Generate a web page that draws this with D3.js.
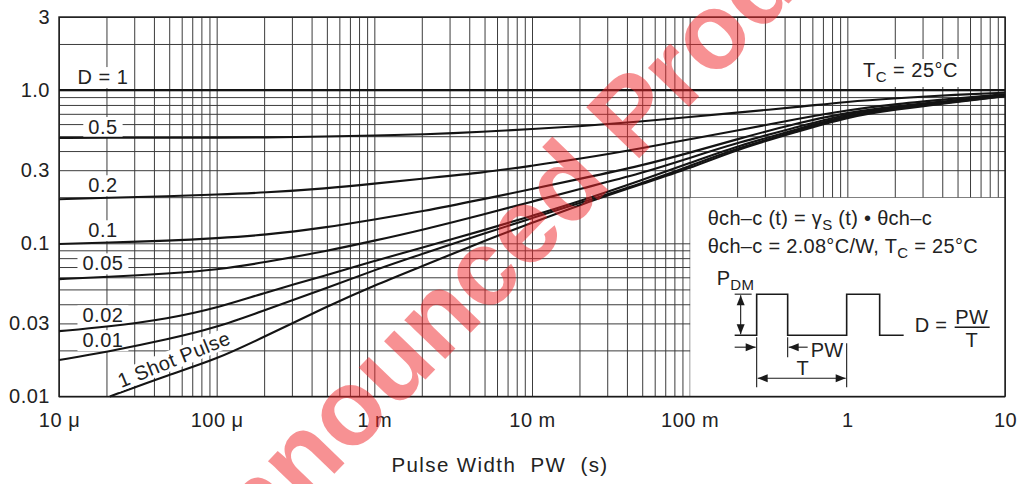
<!DOCTYPE html>
<html>
<head>
<meta charset="utf-8">
<script src="https://cdn.jsdelivr.net/npm/d3@7"></script>
<style>
  body { margin: 0; background: #fff; }
  svg { display: block; font-family: "Liberation Sans", Arial, sans-serif; }
</style>
</head>
<body>
<div id="chart"></div>
<script>
// pulse widths (s) at which the duty curves were read
const pulseWidths = [1e-5, 2e-5, 5e-5, 1e-4, 2e-4, 5e-4, 1e-3, 2e-3, 5e-3, 1e-2, 2e-2, 5e-2, 0.1, 0.2, 0.5, 1, 2, 5, 10];

// normalized transient thermal impedance gamma_s(t) per duty cycle
const dutyOne   = [1, 1, 1, 1, 1, 1, 1, 1, 1, 1, 1, 1, 1, 1, 1, 1, 1, 1, 1];
const dutyHalf  = [0.488, 0.488, 0.489, 0.489, 0.491, 0.497, 0.505, 0.513, 0.534, 0.557, 0.580, 0.625, 0.667, 0.713, 0.778, 0.841, 0.883, 0.935, 0.962];
const duty02    = [0.194, 0.198, 0.203, 0.208, 0.214, 0.228, 0.245, 0.264, 0.290, 0.321, 0.355, 0.417, 0.478, 0.544, 0.654, 0.740, 0.810, 0.883, 0.940];
const duty01    = [0.099, 0.101, 0.104, 0.108, 0.113, 0.127, 0.143, 0.161, 0.195, 0.226, 0.263, 0.322, 0.390, 0.478, 0.617, 0.713, 0.786, 0.861, 0.930];
const duty005   = [0.0584, 0.0602, 0.0635, 0.0670, 0.0750, 0.089, 0.104, 0.122, 0.155, 0.187, 0.226, 0.287, 0.361, 0.453, 0.580, 0.702, 0.775, 0.854, 0.925];
const duty002   = [0.0267, 0.0284, 0.0323, 0.0378, 0.0475, 0.0621, 0.0766, 0.0938, 0.122, 0.151, 0.188, 0.259, 0.334, 0.431, 0.562, 0.687, 0.763, 0.848, 0.920];
const duty001   = [0.0173, 0.0195, 0.0237, 0.0282, 0.0365, 0.0510, 0.0669, 0.0851, 0.116, 0.146, 0.183, 0.247, 0.319, 0.418, 0.550, 0.677, 0.757, 0.844, 0.915];

// single pulse starts later (it enters at the bottom of the plot)
const oneShotPW = [2.1e-5, 5e-5, 1e-4, 2e-4, 5e-4, 1e-3, 2e-3, 5e-3, 1e-2, 2e-2, 5e-2, 0.1, 0.2, 0.5, 1, 2, 5, 10];
const oneShot   = [0.0100, 0.0139, 0.0175, 0.0245, 0.0387, 0.0531, 0.0707, 0.104, 0.136, 0.178, 0.244, 0.308, 0.411, 0.541, 0.667, 0.746, 0.839, 0.910];

const dutyLabels = ['D = 1', '0.5', '0.2', '0.1', '0.05', '0.02', '0.01'];
const xTickValues = [1e-5, 1e-4, 1e-3, 1e-2, 0.1, 1, 10];
const xTickLabels = ['10 \u03bc', '100 \u03bc', '1 m', '10 m', '100 m', '1', '10'];
const yTickValues = [0.01, 0.03, 0.1, 0.3, 1, 3];
const yTickLabels = ['0.01', '0.03', '0.1', '0.3', '1.0', '3'];

const MARGIN = { TOP: 17, RIGHT: 17, BOTTOM: 87.5, LEFT: 59 };
const WIDTH = 1022 - MARGIN.LEFT - MARGIN.RIGHT;
const HEIGHT = 484 - MARGIN.TOP - MARGIN.BOTTOM;

const svg = d3.select('#chart')
  .append('svg')
  .attr('width', 1022)
  .attr('height', 484);

const g = svg.append('g')
  .attr('transform', `translate(${MARGIN.LEFT}, ${MARGIN.TOP})`);

const x = d3.scaleLog().domain([1e-5, 10]).range([0, WIDTH]);
const y = d3.scaleLog().domain([0.01, 3]).range([HEIGHT, 0]);

// log grid 1..9 per decade
const gridX = [];
for (let e = -5; e <= 0; e++) for (let m = 1; m <= 9; m++) gridX.push(m * Math.pow(10, e));
gridX.push(10);
const gridY = [];
for (let e = -2; e <= -1; e++) for (let m = 1; m <= 9; m++) gridY.push(m * Math.pow(10, e));
gridY.push(1, 2, 3);

g.append('g')
  .attr('class', 'grid')
  .attr('transform', `translate(0, ${HEIGHT})`)
  .call(d3.axisBottom(x).tickValues(gridX).tickSize(-HEIGHT).tickFormat(''));
g.append('g')
  .attr('class', 'grid')
  .call(d3.axisLeft(y).tickValues(gridY).tickSize(-WIDTH).tickFormat(''));
g.selectAll('.grid .domain').remove();
g.selectAll('.grid line').attr('stroke', '#3c3c3c').attr('stroke-width', 1);

// white inset panel (100 m .. 10 s, 0.01 .. 0.2)
const ix = x(0.1), iy = y(0.2);
g.append('rect')
  .attr('x', ix + 0.6)
  .attr('y', iy + 0.6)
  .attr('width', x(10) - ix - 0.6)
  .attr('height', HEIGHT - iy - 0.6)
  .attr('fill', '#fff');

// frame
g.append('rect')
  .attr('width', WIDTH)
  .attr('height', HEIGHT)
  .attr('fill', 'none')
  .attr('stroke', '#1a1a1a')
  .attr('stroke-width', 1.4);

// tick labels
const xAxis = g.append('g')
  .attr('transform', `translate(0, ${HEIGHT})`)
  .call(d3.axisBottom(x).tickValues(xTickValues).tickSize(0).tickPadding(16)
    .tickFormat((d, i) => xTickLabels[i]));
const yAxis = g.append('g')
  .call(d3.axisLeft(y).tickValues(yTickValues).tickSize(0).tickPadding(9)
    .tickFormat((d, i) => yTickLabels[i]));
[xAxis, yAxis].forEach((a) => {
  a.select('.domain').remove();
  a.selectAll('text')
    .attr('font-family', '"Liberation Sans", Arial, sans-serif')
    .attr('font-size', 20)
    .attr('letter-spacing', 0.5)
    .attr('fill', '#222');
});

// axis title
g.append('text')
  .attr('x', 500 - MARGIN.LEFT)
  .attr('y', 472 - MARGIN.TOP)
  .attr('text-anchor', 'middle')
  .attr('font-size', 20.5)
  .attr('letter-spacing', 1.4)
  .attr('fill', '#222')
  .style('white-space', 'pre')
  .text('Pulse Width  PW  (s)');

// curve labels, with white boxes that mask the grid
const labelPos = [[1.9e-5, 1.22], [1.9e-5, 0.576], [1.9e-5, 0.240], [1.9e-5, 0.122],
                  [1.9e-5, 0.0742], [1.9e-5, 0.034], [1.9e-5, 0.0234]];
const boxLayer = g.append('g');
const curveLayer = g.append('g');
const textLayer = g.append('g');

dutyLabels.forEach((lab, i) => {
  const t = textLayer.append('text')
    .attr('x', x(labelPos[i][0]))
    .attr('y', y(labelPos[i][1]))
    .attr('dy', '0.36em')
    .attr('text-anchor', 'middle')
    .attr('font-size', 20)
    .attr('letter-spacing', 0.5)
    .attr('fill', '#222')
    .text(lab);
  const b = t.node().getBBox();
  boxLayer.append('rect')
    .attr('x', b.x - 5).attr('y', b.y + 1)
    .attr('width', b.width + 10).attr('height', b.height - 1)
    .attr('fill', '#fff');
});

// 1 Shot Pulse label, along its curve
const shotX = 174 - MARGIN.LEFT, shotY = 359 - MARGIN.TOP;
const shotG = g.append('g').attr('transform', `translate(${shotX}, ${shotY}) rotate(-22)`);
const shotT = shotG.append('text')
  .attr('text-anchor', 'middle')
  .attr('dy', '0.36em')
  .attr('font-size', 20)
  .attr('letter-spacing', 0.5)
  .attr('fill', '#222')
  .text('1 Shot Pulse');
const sb = shotT.node().getBBox();
shotG.insert('rect', 'text')
  .attr('x', sb.x - 4).attr('y', sb.y + 1)
  .attr('width', sb.width + 8).attr('height', sb.height - 2)
  .attr('fill', '#fff');

// TC label
const tcG = g.append('g');
const tcT = tcG.append('text')
  .attr('x', 863 - MARGIN.LEFT)
  .attr('y', 77 - MARGIN.TOP)
  .attr('font-size', 20)
  .attr('letter-spacing', 0.5)
  .attr('fill', '#222');
tcT.append('tspan').text('T');
tcT.append('tspan').attr('font-size', 15).attr('dy', 5).text('C');
tcT.append('tspan').attr('dy', -5).text(' = 25\u00b0C');
const tb = tcT.node().getBBox();
tcG.insert('rect', 'text')
  .attr('x', tb.x - 5).attr('y', tb.y)
  .attr('width', tb.width + 10).attr('height', tb.height + 2)
  .attr('fill', '#fff');

// curves (B-spline through the read points, smooth like the original)
const line = d3.line()
  .x((d) => x(d[0]))
  .y((d) => y(d[1]))
  .curve(d3.curveBasis);

const series = [dutyOne, dutyHalf, duty02, duty01, duty005, duty002, duty001];
series.forEach((vals) => {
  curveLayer.append('path')
    .datum(pulseWidths.map((p, i) => [p, vals[i]]))
    .attr('d', line)
    .attr('fill', 'none')
    .attr('stroke', '#141414')
    .attr('stroke-width', 2.1);
});
curveLayer.append('path')
  .datum(oneShotPW.map((p, i) => [p, oneShot[i]]))
  .attr('d', line)
  .attr('fill', 'none')
  .attr('stroke', '#141414')
  .attr('stroke-width', 2.1);

// inset: formulas and pulse diagram
const inset = g.append('g').attr('transform', `translate(${ix}, ${iy})`)
  .attr('font-size', 20)
  .attr('letter-spacing', 0.3)
  .attr('fill', '#222');

const l1 = inset.append('text').attr('x', 18).attr('y', 28);
l1.append('tspan').text('\u03b8ch\u2013c (t) = \u03b3');
l1.append('tspan').attr('font-size', 15).attr('dy', 5).text('S');
l1.append('tspan').attr('dy', -5).text(' (t) \u2022 \u03b8ch\u2013c');

const l2 = inset.append('text').attr('x', 18).attr('y', 56);
l2.append('tspan').text('\u03b8ch\u2013c = 2.08\u00b0C/W, T');
l2.append('tspan').attr('font-size', 15).attr('dy', 5).text('C');
l2.append('tspan').attr('dy', -5).text(' = 25\u00b0C');

const pdm = inset.append('text').attr('x', 27).attr('y', 88);
pdm.append('tspan').text('P');
pdm.append('tspan').attr('font-size', 15).attr('dy', 5).text('DM');

const ink = '#1a1a1a';
inset.append('path')
  .attr('d', 'M45,138 H67 V97 H98 V138 H157 V97 H190 V138 H214')
  .attr('fill', 'none').attr('stroke', ink).attr('stroke-width', 1.6);

const seg = (x1, y1, x2, y2, w) => inset.append('line')
  .attr('x1', x1).attr('y1', y1).attr('x2', x2).attr('y2', y2)
  .attr('stroke', ink).attr('stroke-width', w || 1.1);
const head = (px, py, dir) => {
  // dir: 'r','l','u','d'
  const L = 10, W = 4;
  let pts;
  if (dir === 'r') pts = [[px, py], [px - L, py - W], [px - L, py + W]];
  if (dir === 'l') pts = [[px, py], [px + L, py - W], [px + L, py + W]];
  if (dir === 'u') pts = [[px, py], [px - W, py + L], [px + W, py + L]];
  if (dir === 'd') pts = [[px, py], [px - W, py - L], [px + W, py - L]];
  inset.append('polygon').attr('points', pts.map((p) => p.join(',')).join(' ')).attr('fill', ink);
};

// PDM height arrow
seg(45, 97, 62, 97);
seg(51, 98, 51, 137);
head(51, 98, 'u');
head(51, 137, 'd');

// extension lines
seg(67, 140, 67, 190);
seg(98, 140, 98, 160);
seg(157, 146, 157, 190);

// PW arrows
seg(45, 150, 66, 150);
head(66, 150, 'r');
seg(99, 150, 118, 150);
head(99, 150, 'l');
inset.append('text').attr('x', 121).attr('y', 160).text('PW');

// T arrow
seg(68, 181, 156, 181);
head(68, 181, 'l');
head(156, 181, 'r');
inset.append('text').attr('x', 113).attr('y', 178).attr('text-anchor', 'middle').text('T');

// D = PW / T
inset.append('text').attr('x', 225).attr('y', 135).text('D =');
inset.append('text').attr('x', 282).attr('y', 127).attr('text-anchor', 'middle').text('PW');
seg(265, 130, 300, 130, 1.4);
inset.append('text').attr('x', 282).attr('y', 150).attr('text-anchor', 'middle').text('T');

// watermark
svg.append('text')
  .attr('transform', 'translate(118, 698) rotate(-46)')
  .attr('font-family', '"Liberation Sans", Arial, sans-serif')
  .attr('font-weight', 'bold')
  .attr('font-size', 107)
  .attr('fill', 'rgb(240, 36, 40)')
  .attr('fill-opacity', 0.5)
  .text('Unannounced Product');
</script>
</body>
</html>
